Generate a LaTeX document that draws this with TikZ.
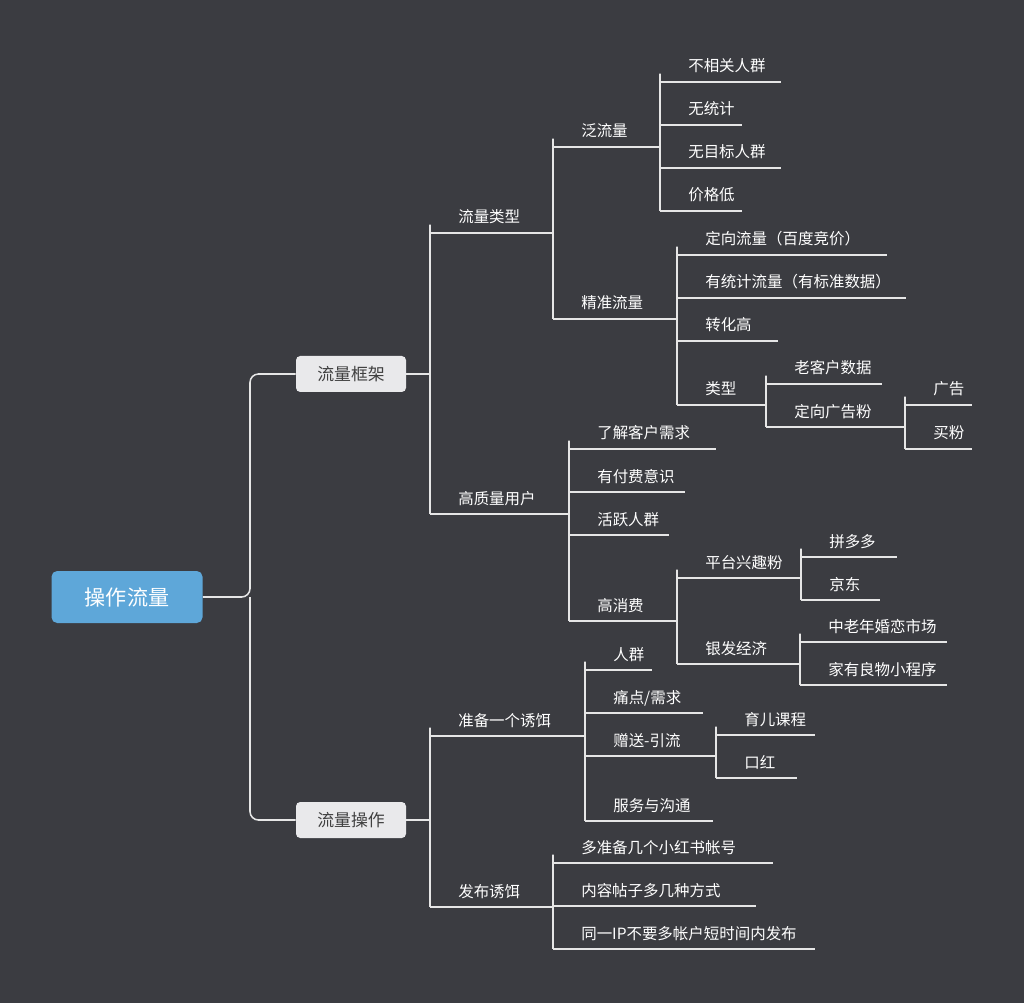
\documentclass[tikz,border=0pt]{standalone}
\usepackage{fontspec}
\newfontfamily\cjk{Noto Sans CJK SC}
\usepackage{tikz}
\usetikzlibrary{calc,positioning}

\definecolor{bgcol}{HTML}{3B3C41}
\definecolor{linecol}{HTML}{E6E6E6}
\definecolor{rootcol}{HTML}{5EA7D9}
\definecolor{boxcol}{HTML}{E9E9EB}

\tikzset{
    link/.style={draw=linecol, line width=1.1pt, rounded corners=6},
    leaftext/.style={font=\cjk\fontsize{11pt}{13pt}\selectfont, text=white, inner sep=0pt, anchor=base west},
    branch/.style={font=\cjk\fontsize{12pt}{14pt}\selectfont, text=black!75, fill=boxcol, rounded corners=3pt, minimum width=110*0.025cm, minimum height=36*0.025cm},
    rootbox/.style={font=\cjk\fontsize{15pt}{17pt}\selectfont, text=white, fill=rootcol, rounded corners=4pt, minimum width=151*0.025cm, minimum height=52*0.025cm}
}

% leaf: name, line start x, line end x, line y, text
\newcommand{\leaf}[5]{
    \coordinate (#1-s) at (#2,#4);
    \coordinate (#1-e) at (#3,#4);
    \node[leaftext] (#1) at (#2+28,#4-10) {#5};
    \draw[link] (#1-s) -- (#1-e);
}

\begin{document}
\begin{tikzpicture}[x=0.025cm, y=-0.025cm]
    \fill[bgcol] (0,0) rectangle (1024,1003);
    \useasboundingbox (0,0) rectangle (1024,1003);

    % Root and main branches
    \node[rootbox] (root) at (127,597) {操作流量};
    \node[branch] (frame) at (351,374) {流量框架};
    \node[branch] (oper) at (351,820) {流量操作};
    \draw[link] (root.east) -- (250,597) |- (frame.west);
    \draw[link] (250,597) |- (oper.west);
    \coordinate (frame-e) at (430,374);
    \coordinate (oper-e) at (430,820);
    \draw[link] (frame.east) -- (frame-e);
    \draw[link] (oper.east) -- (oper-e);

    % 流量框架
    \leaf{type}{430}{553}{233}{流量类型}
    \leaf{hq}{430}{569}{514}{高质量用户}
    \foreach \c in {type,hq} \draw[link] (frame-e) |- (\c-s);

    % 流量类型
    \leaf{wide}{553}{660}{147}{泛流量}
    \leaf{exact}{553}{677}{319}{精准流量}
    \foreach \c in {wide,exact} \draw[link] (type-e) |- (\c-s);

    \leaf{w1}{660}{781}{82}{不相关人群}
    \leaf{w2}{660}{742}{125}{无统计}
    \leaf{w3}{660}{781}{168}{无目标人群}
    \leaf{w4}{660}{742}{211}{价格低}
    \foreach \c in {w1,w2,w3,w4} \draw[link] (wide-e) |- (\c-s);

    \leaf{e1}{677}{887}{255}{定向流量（百度竞价）}
    \leaf{e2}{677}{906}{298}{有统计流量（有标准数据）}
    \leaf{e3}{677}{778}{341}{转化高}
    \leaf{e4}{677}{766}{405}{类型}
    \foreach \c in {e1,e2,e3,e4} \draw[link] (exact-e) |- (\c-s);

    \leaf{k1}{766}{882}{384}{老客户数据}
    \leaf{k2}{766}{905}{427}{定向广告粉}
    \foreach \c in {k1,k2} \draw[link] (e4-e) |- (\c-s);

    \leaf{a1}{905}{972}{405}{广告}
    \leaf{a2}{905}{972}{449}{买粉}
    \foreach \c in {a1,a2} \draw[link] (k2-e) |- (\c-s);

    % 高质量用户
    \leaf{h1}{569}{716}{449}{了解客户需求}
    \leaf{h2}{569}{685}{492}{有付费意识}
    \leaf{h3}{569}{669}{535}{活跃人群}
    \leaf{h4}{569}{677}{621}{高消费}
    \foreach \c in {h1,h2,h3,h4} \draw[link] (hq-e) |- (\c-s);

    \leaf{p1}{677}{801}{578}{平台兴趣粉}
    \leaf{p2}{677}{800}{664}{银发经济}
    \foreach \c in {p1,p2} \draw[link] (h4-e) |- (\c-s);

    \leaf{q1}{801}{897}{557}{拼多多}
    \leaf{q2}{801}{880}{600}{京东}
    \foreach \c in {q1,q2} \draw[link] (p1-e) |- (\c-s);

    \leaf{s1}{800}{947}{642}{中老年婚恋市场}
    \leaf{s2}{800}{947}{685}{家有良物小程序}
    \foreach \c in {s1,s2} \draw[link] (p2-e) |- (\c-s);

    % 流量操作
    \leaf{bait}{430}{585}{736}{准备一个诱饵}
    \leaf{pub}{430}{553}{907}{发布诱饵}
    \foreach \c in {bait,pub} \draw[link] (oper-e) |- (\c-s);

    \leaf{b1}{585}{652}{670}{人群}
    \leaf{b2}{585}{703}{713}{痛点/需求}
    \leaf{b3}{585}{716}{756}{赠送-引流}
    \leaf{b4}{585}{713}{821}{服务与沟通}
    \foreach \c in {b1,b2,b3,b4} \draw[link] (bait-e) |- (\c-s);

    \leaf{g1}{716}{815}{735}{育儿课程}
    \leaf{g2}{716}{797}{778}{口红}
    \foreach \c in {g1,g2} \draw[link] (b3-e) |- (\c-s);

    \leaf{u1}{553}{773}{863}{多准备几个小红书帐号}
    \leaf{u2}{553}{756}{906}{内容帖子多几种方式}
    \leaf{u3}{553}{815}{949}{同一IP不要多帐户短时间内发布}
    \foreach \c in {u1,u2,u3} \draw[link] (pub-e) |- (\c-s);
\end{tikzpicture}
\end{document}
